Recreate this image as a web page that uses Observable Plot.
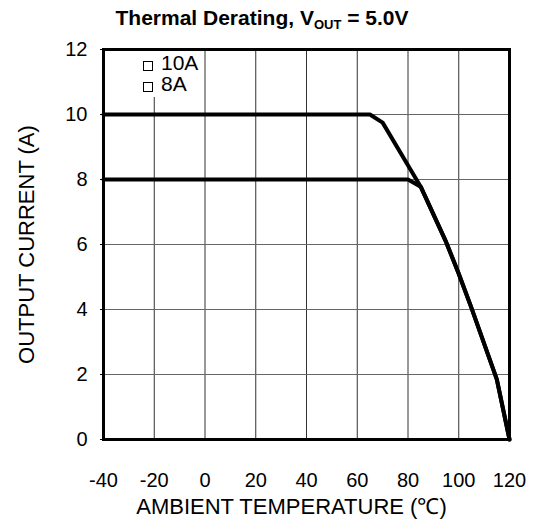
<!DOCTYPE html>
<html><head><meta charset="utf-8">
<script src="https://cdn.jsdelivr.net/npm/d3@7"></script>
<script src="https://cdn.jsdelivr.net/npm/@observablehq/plot@0.6"></script>
<style>
body{margin:0;background:#fff;font-family:Arial,"Liberation Sans",sans-serif;}
#wrap{position:relative;width:538px;height:520px;}
#title{position:absolute;left:0;top:7px;width:524px;text-align:center;font-weight:bold;font-size:21px;line-height:21px;color:#000;white-space:nowrap;}
#title sub{font-size:13px;vertical-align:-4px;line-height:0;}
#chart{position:absolute;left:0;top:36px;}
#chart svg g[aria-label$="tick label"]{font-size:20px !important;}
#chart svg g[aria-label$="tick label"] text{font-size:20px !important;}
#legend{position:absolute;left:140px;top:51px;width:60px;height:46px;background:#fff;font-size:21px;line-height:21px;color:#000;padding-top:1px;box-sizing:border-box;}
#legend .row{height:21px;white-space:nowrap;}
#legend .sq{display:inline-block;width:10px;height:10px;border:1px solid #000;margin:0 8px 0 3px;box-sizing:border-box;vertical-align:-1px;}
</style></head>
<body>
<div id="wrap">
<div id="title">Thermal Derating, V<sub>OUT</sub> = 5.0V</div>
<div id="chart"></div>
<div id="legend"><div class="row"><span class="sq"></span>10A</div><div class="row"><span class="sq"></span>8A</div></div>
</div>
<script>
const temp10 = [-40, 65, 70, 85, 95, 100, 105, 115, 120];
const amps10 = [10, 10, 9.75, 7.78, 6.08, 5.1, 4.05, 1.85, 0];
const temp8 = [-40, 80, 85, 95, 100, 105, 115, 120];
const amps8 = [8, 8, 7.78, 6.08, 5.1, 4.05, 1.85, 0];
const xTicks = [-40, -20, 0, 20, 40, 60, 80, 100, 120];
const yTicks = [0, 2, 4, 6, 8, 10, 12];
const xLabel = "AMBIENT TEMPERATURE (℃)";
const yLabel = "OUTPUT CURRENT (A)";

const s10 = temp10.map((t, i) => ({t, a: amps10[i]}));
const s8 = temp8.map((t, i) => ({t, a: amps8[i]}));

const chart = Plot.plot({
  width: 538, height: 484,
  marginTop: 13, marginBottom: 81, marginLeft: 103, marginRight: 29,
  x: {domain: [-40, 120]},
  y: {domain: [0, 12]},
  style: {fontFamily: "Arial, 'Liberation Sans', sans-serif", fontSize: "20px", color: "#000", background: "transparent"},
  marks: [
    Plot.gridX(xTicks, {stroke: "#333", strokeOpacity: 1, strokeWidth: 1}),
    Plot.gridY(yTicks, {stroke: "#666", strokeOpacity: 1, strokeWidth: 1}),
    Plot.axisX(xTicks, {tickSize: 0, tickPadding: 33, label: null, fontSize: 20, tickFormat: d => String(d)}),
    Plot.axisY(yTicks, {tickSize: 3, tickPadding: 13, label: null, fontSize: 20}),
    Plot.text([xLabel], {frameAnchor: "bottom", lineAnchor: "middle", textAnchor: "middle", dy: 67, dx: -15, fontSize: 22}),
    Plot.text([yLabel], {frameAnchor: "left", textAnchor: "middle", lineAnchor: "middle", rotate: -90, dx: -77, fontSize: 22}),
    Plot.line(s8, {x: "t", y: "a", stroke: "#000", strokeWidth: 4}),
    Plot.line(s10, {x: "t", y: "a", stroke: "#000", strokeWidth: 4}),
    Plot.frame({stroke: "#000", strokeWidth: 3})
  ]
});
document.getElementById("chart").appendChild(chart);
</script>
</body></html>
